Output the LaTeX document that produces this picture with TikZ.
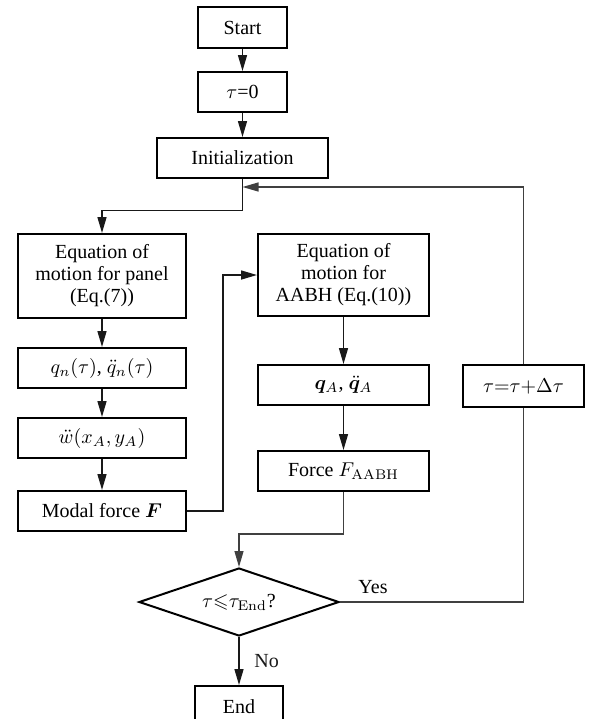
\documentclass[tikz,border=0pt]{standalone}
\usepackage{amsmath,amssymb}
\usepackage{bm}
\usepackage[no-math]{fontspec}
\setmainfont{Liberation Serif}
\usetikzlibrary{positioning}
\usetikzlibrary{shapes.geometric}
\usetikzlibrary{arrows.meta}
\tikzset{
	box/.style={draw, line width=1pt, minimum width=84pt, minimum height=20pt, inner sep=2pt, align=center, font=\fontsize{10}{11}\selectfont},
	decision/.style={draw, diamond, line width=1pt, minimum width=100pt, minimum height=34pt, inner sep=0pt, aspect=2.9},
	line/.style={line width=0.75pt, black!90},
	loopline/.style={line width=0.65pt, black!75},
	arr/.style={line, -{Triangle[length=8pt,width=4.5pt]}}
}

\begin{document}
\begin{tikzpicture}[x=0.5pt, y=-0.5pt]
	\useasboundingbox (0,0) rectangle (596,719);
	\clip (0,0) rectangle (596,719);

	\node[box, minimum width=44.5pt, minimum height=20.5pt] at (242.5,27.5) (start) {Start};
	\node[box, minimum width=44.5pt, below=11pt of start] (tau0) {$\tau$=0};
	\node[box, minimum width=85.5pt, below=12pt of tau0] (init) {Initialization};

	\node[box, minimum height=42pt] at (102,276) (panel) {Equation of\\motion for panel\\(Eq.(7))};
	\node[box, below=14pt of panel] (qn) {$q_n(\tau)$, $\ddot{q}_n(\tau)$};
	\node[box, below=14pt of qn] (wacc) {$\ddot{w}(x_A, y_A)$};
	\node[box, below=15.5pt of wacc] (modal) {Modal force $\bm{F}$};

	\node[box, minimum width=85.5pt, minimum height=41pt] at (343.5,275) (aabh) {Equation of\\motion for\\AABH (Eq.(10))};
	\node[box, minimum width=85.5pt, below=23.5pt of aabh] (qA) {$\bm{q}_A$, $\ddot{\bm{q}}_A$};
	\node[box, minimum width=85.5pt, below=22pt of qA] (forceA) {Force $F_{\mathrm{AABH}}$};

	\node[box, minimum width=60.5pt, minimum height=21pt] at (523.5,386) (taup) {$\tau{=}\tau{+}\Delta\tau$};
	\node[decision] at (239,602) (dec) {$\tau{\leqslant}\tau_{\mathrm{End}}$?};
	\node[box, minimum width=44pt, minimum height=20.5pt] at (239,706.5) (end) {End};

	\coordinate (loopin) at (242.5,187);

	\draw[arr] (start) -- (tau0);
	\draw[arr] (tau0) -- (init);
	\draw[arr] (init.south) -- ++(0,31.5) -| (panel.north);
	\draw[arr] (panel) -- (qn);
	\draw[arr] (qn) -- (wacc);
	\draw[arr] (wacc) -- (modal);
	\draw[arr] (modal.east) -- ++(36,0) |- (aabh.west);
	\draw[arr] (aabh) -- (qA);
	\draw[arr] (qA) -- (forceA);
	\draw[arr, loopline] (forceA.south) -- ++(0,42) -| (dec.north);
	\draw[loopline] (dec.east) -| node[pos=0.09, above=0.5pt, text=black] {Yes} (taup.south);
	\draw[arr, loopline] (taup.north) |- (loopin);
	\draw[arr] (dec.south) -- node[right=4pt] {No} (end.north);
\end{tikzpicture}
\end{document}
